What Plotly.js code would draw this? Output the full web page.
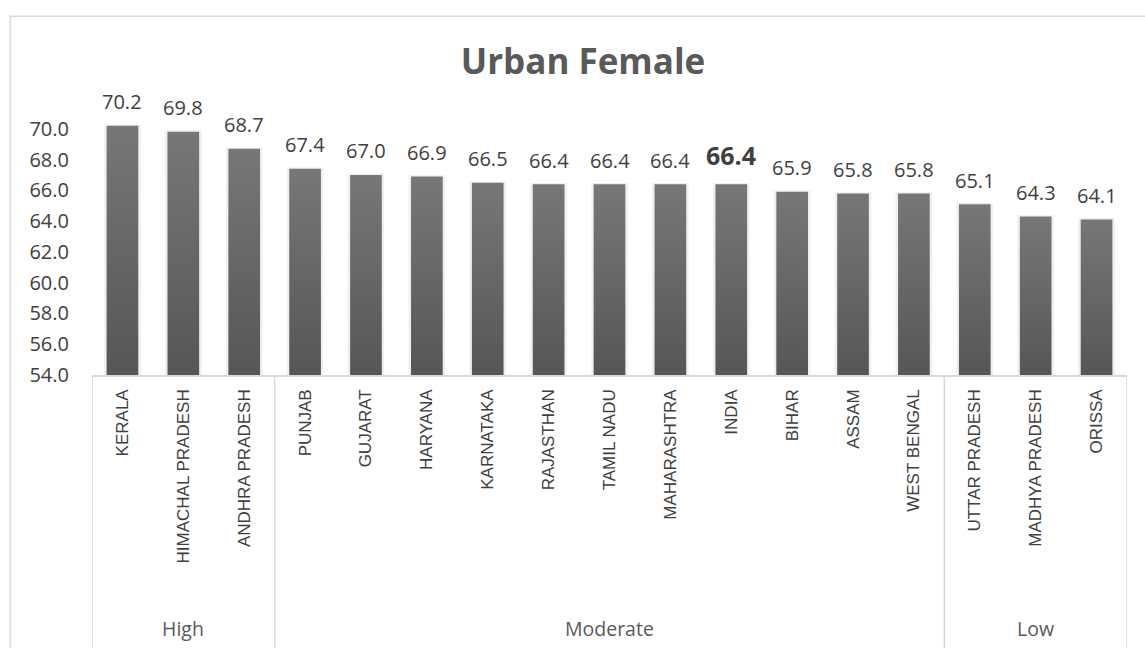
<!DOCTYPE html>
<html>
<head>
<meta charset="utf-8">
<script src="https://cdn.plot.ly/plotly-3.0.1.min.js"></script>
<style>
html,body{margin:0;padding:0;background:#fff;overflow:hidden;}
#chart{width:1145px;height:648px;}
</style>
</head>
<body>
<div id="chart"></div>
<script>
// ---- data ----
const categories = ["KERALA","HIMACHAL PRADESH","ANDHRA PRADESH","PUNJAB","GUJARAT","HARYANA","KARNATAKA","RAJASTHAN","TAMIL NADU","MAHARASHTRA","INDIA","BIHAR","ASSAM","WEST BENGAL","UTTAR PRADESH","MADHYA PRADESH","ORISSA"];
const values = [70.2, 69.8, 68.7, 67.4, 67.0, 66.9, 66.5, 66.4, 66.4, 66.4, 66.4, 65.9, 65.8, 65.8, 65.1, 64.3, 64.1];
const groupNames = ["High", "Moderate", "Low"];
const groupSizes = [3, 11, 3];
const highlight = "INDIA";
const yTicks = [54, 56, 58, 60, 62, 64, 66, 68, 70];
const titleText = "Urban Female";

// ---- layout helpers ----
const W = 1145, H = 648;
const plotL = 92.3, plotR = 1127.3, plotT = 97.5, plotB = 375;
const pw = plotR - plotL, ph = plotB - plotT;
const px2x = p => (p - plotL) / pw;
const py2y = p => (plotB - p) / ph;
const grey = "#d9d9d9";
const txt = "#404040";
const font = "'Open Sans', 'Liberation Sans', sans-serif";
const yBase = 54;

const annotations = categories.map((c, i) => {
  const isH = c === highlight;
  return {
    x: c, y: values[i], xref: "x", yref: "y",
    text: isH ? "<b>" + values[i].toFixed(1) + "</b>" : values[i].toFixed(1),
    showarrow: false, yanchor: "middle", xanchor: "center",
    yshift: isH ? 29 : 24,
    font: {family: font, size: isH ? 25 : 20, color: txt}
  };
});

const shapes = [];
let start = 0;
const bounds = [-0.5];
groupSizes.forEach((n, g) => {
  const mid = start + (n - 1) / 2;
  annotations.push({
    x: mid, y: py2y(629), xref: "x", yref: "paper",
    text: groupNames[g], showarrow: false, xanchor: "center", yanchor: "middle",
    font: {family: font, size: 19.5, color: "#595959"}
  });
  start += n;
  bounds.push(start - 0.5);
});
bounds.forEach(b => shapes.push({
  type: "line", xref: "x", yref: "paper", x0: b, x1: b, y0: 0, y1: py2y(H + 20),
  line: {color: grey, width: 1.5}
}));
// outer chart border
shapes.push({
  type: "rect", xref: "paper", yref: "paper",
  x0: px2x(10.5), x1: px2x(W + 30), y0: py2y(H + 30), y1: py2y(15.5),
  line: {color: grey, width: 1.5}, fillcolor: "rgba(0,0,0,0)", layer: "below"
});

const traces = [
  {
    type: "bar", x: categories, y: values.map(v => v - yBase + 0.08), base: yBase,
    width: 0.6, marker: {color: "#efefef", line: {width: 0}},
    hoverinfo: "skip", showlegend: false
  },
  {
    type: "bar", x: categories, y: values.map(v => v - yBase), base: yBase,
    width: 0.52, marker: {color: "#646464", line: {width: 0}},
    showlegend: false
  }
];

const layout = {
  width: W, height: H,
  margin: {l: plotL, r: W - plotR, t: plotT, b: H - plotB, pad: 0},
  paper_bgcolor: "#fff", plot_bgcolor: "#fff",
  barmode: "overlay",
  title: {
    text: "<b>" + titleText + "</b>",
    x: 583 / W, xref: "container", xanchor: "center",
    y: 1 - 62 / H, yref: "container", yanchor: "middle",
    font: {family: font, size: 35, color: "#595959"}
  },
  xaxis: {
    type: "category", range: [-0.5, categories.length - 0.5],
    tickangle: -90, tickfont: {family: "'Liberation Sans', Arial, sans-serif", size: 17, color: txt},
    showline: true, linecolor: grey, linewidth: 1.5,
    ticks: "", showgrid: false, zeroline: false, ticklabelstandoff: 6
  },
  yaxis: {
    range: [54, 72], tickvals: yTicks, ticktext: yTicks.map(v => v.toFixed(1)),
    tickfont: {family: font, size: 20, color: txt},
    showline: false, showgrid: false, zeroline: false, ticks: "",
    ticklabelstandoff: 22
  },
  annotations: annotations,
  shapes: shapes,
  showlegend: false
};

Plotly.newPlot("chart", traces, layout, {displayModeBar: false, staticPlot: true}).then(gd => {
  const svg = gd.querySelector(".main-svg");
  const ns = "http://www.w3.org/2000/svg";
  let defs = svg.querySelector("defs");
  if (!defs) { defs = document.createElementNS(ns, "defs"); svg.insertBefore(defs, svg.firstChild); }
  const g = document.createElementNS(ns, "linearGradient");
  g.setAttribute("id", "barGrad");
  g.setAttribute("x1", "0"); g.setAttribute("y1", "0");
  g.setAttribute("x2", "0"); g.setAttribute("y2", "1");
  [["0", "#777777"], ["1", "#565656"]].forEach(([o, c]) => {
    const s = document.createElementNS(ns, "stop");
    s.setAttribute("offset", o); s.setAttribute("stop-color", c);
    g.appendChild(s);
  });
  defs.appendChild(g);
  const traceGroups = gd.querySelectorAll(".barlayer .trace");
  if (traceGroups.length > 1) {
    traceGroups[1].querySelectorAll(".point path").forEach(p => { p.style.fill = "url(#barGrad)"; });
  }
});
</script>
</body>
</html>
